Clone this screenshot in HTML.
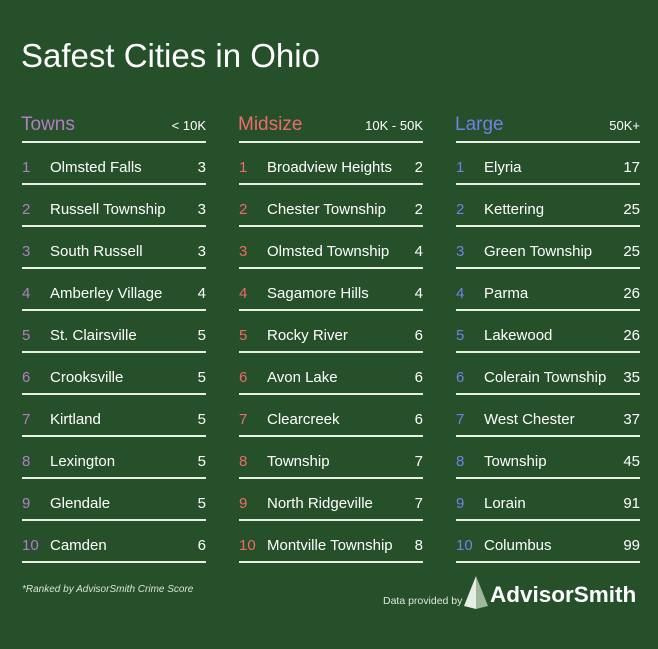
<!DOCTYPE html>
<html><head><meta charset="utf-8">
<style>
body{margin:0;width:658px;height:649px;background:#26502a;font-family:"Liberation Sans",sans-serif;color:#fff;position:relative;overflow:hidden}
.a{position:absolute;white-space:nowrap}
.ln{position:absolute;height:1.5px;background:#e8f0e4}
</style></head><body>
<div class="a" style="left:21px;top:37px;font-size:33px;">Safest Cities in Ohio</div>
<div id="wrap"></div>
<div class="a" style="left:22px;top:584px;font-size:10px;font-style:italic;color:#d8e4d4">*Ranked by AdvisorSmith Crime Score</div>
<div class="a" style="left:383px;top:595px;font-size:10.5px;color:#e0e8dc">Data provided by</div>
<svg class="a" style="left:464px;top:576px" width="24" height="34" viewBox="0 0 24 34"><polygon points="12,0 0,30 12,33" fill="#e8eee6"/><polygon points="12,0 24,30 12,33" fill="#9fb79c"/></svg>
<div class="a" style="left:490px;top:582px;font-size:22.5px;font-weight:bold;">AdvisorSmith</div>
<script>
const groups=["Towns","Midsize","Large"];
const ranges=["< 10K","10K - 50K","50K+"];
const groupColors=["#b47cc4","#ee6a6a","#6f82e6"];
const towns=["Olmsted Falls","Russell Township","South Russell","Amberley Village","St. Clairsville","Crooksville","Kirtland","Lexington","Glendale","Camden"];
const townScores=[3,3,3,4,5,5,5,5,5,6];
const midsize=["Broadview Heights","Chester Township","Olmsted Township","Sagamore Hills","Rocky River","Avon Lake","Clearcreek","Township","North Ridgeville","Montville Township"];
const midsizeScores=[2,2,4,4,6,6,6,7,7,8];
const large=["Elyria","Kettering","Green Township","Parma","Lakewood","Colerain Township","West Chester","Township","Lorain","Columbus"];
const largeScores=[17,25,25,26,26,35,37,45,91,99];
const names=[towns,midsize,large], scores=[townScores,midsizeScores,largeScores];
const wrap=document.getElementById('wrap');
function mk(cls,style,txt){const d=document.createElement('div');d.className=cls;d.style.cssText=style;if(txt!==undefined)d.textContent=txt;wrap.appendChild(d);return d;}
groups.forEach((g,gi)=>{
  const x0=22+gi*217, w=184;
  let e=mk('a',`left:${x0-1}px;top:114px;font-size:19px;color:${groupColors[gi]}`,g);
  
  
  e=mk('a',`left:${x0}px;width:${w}px;text-align:right;top:118px;font-size:13px`,ranges[gi]);
  
  
  for(let k=0;k<=10;k++){
    e=mk('ln',`left:${x0}px;width:${w}px;top:${141+42*k}px`);
    
    
  }
  names[gi].forEach((n,i)=>{
    const y=159+42*i;
    e=mk('a',`left:${x0}px;top:${y}px;font-size:15px;color:${groupColors[gi]}`,String(i+1));
    
    
    e=mk('a',`left:${x0+28}px;top:${y}px;font-size:15px`,n);
    
    
    e=mk('a',`left:${x0}px;width:${w}px;text-align:right;top:${y}px;font-size:15px`,String(scores[gi][i]));
    
    
  });
});
</script>
</body></html>
